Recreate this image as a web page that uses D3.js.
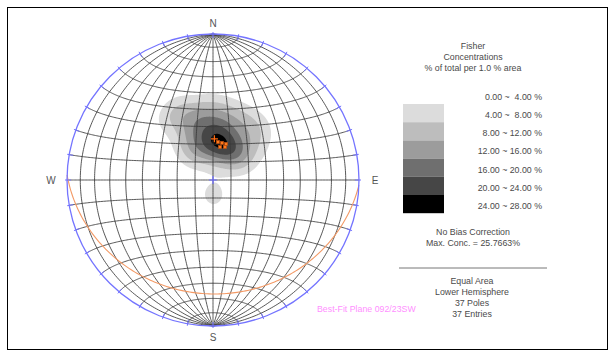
<!DOCTYPE html>
<html>
<head>
<meta charset="utf-8">
<script src="https://cdn.jsdelivr.net/npm/d3@7"></script>
<style>
  html, body { margin: 0; padding: 0; background: #fff; }
  svg { display: block; font-family: "Liberation Sans", Arial, sans-serif; }
</style>
</head>
<body>
<svg id="chart" width="616" height="358"></svg>
<script>
// Poles to the measured planes: trend / plunge in degrees (lower hemisphere)
const poleTrend = [1.5, 16.2, 6.8, 357.3, 18.0, 343.7, 8.3, 353.3, 27.4, 352.9, 11.1, 25.5, 39.8,
  13.5, 333.4, 340.8, 1.9, 39.3, 324.7, 51.3, 339.0, 22.0, 38.8, 320.2, 58.0, 359.2, 11.8, 349.5,
  326.6, 52.9, 330.2, 322.2, 336.0, 180.0, 177.1, 43.3, 30.8];
const polePlunge = [69.4, 72.0, 66.4, 65.9, 68.3, 56.0, 62.8, 70.9, 71.8, 58.3, 57.9, 62.7, 72.6,
  75.7, 71.3, 62.7, 56.2, 66.2, 73.6, 72.2, 53.7, 52.2, 56.8, 68.2, 68.9, 46.8, 48.3, 49.7,
  60.4, 58.3, 45.4, 48.4, 43.8, 84.4, 78.9, 49.5, 49.1];

// Pole symbols drawn over the contours
const symbolTrend = [7.5, 13.7, 19.9, 12.0, 20.0];
const symbolPlunge = [68.6, 68.7, 68.6, 71.2, 70.4];

// Best-fit plane (strike / dip, right-hand rule)
const planeStrike = 92;
const planeDip = 23;
const planeLabel = "Best-Fit Plane 092/23SW";

// Contour bands (% of total per 1.0 % area)
const contourLevels = [0, 4, 8, 12, 16, 20, 24, 28];
const contourLabels = ["0.00 ~  4.00 %", "4.00 ~  8.00 %", "8.00 ~ 12.00 %", "12.00 ~ 16.00 %",
  "16.00 ~ 20.00 %", "20.00 ~ 24.00 %", "24.00 ~ 28.00 %"];
const contourFills = ["#ffffff", "#dcdcdc", "#bdbdbd", "#9c9c9c", "#6f6f6f", "#464646", "#000000"];

const headerLines = ["Fisher", "Concentrations", "% of total per 1.0 % area"];
const noteLines = ["No Bias Correction", "Max. Conc. = 25.7663%"];
const infoLines = ["Equal Area", "Lower Hemisphere", "37 Poles", "37 Entries"];
const compassLabels = [{t: "N", az: 0}, {t: "E", az: 90}, {t: "S", az: 180}, {t: "W", az: 270}];

const gridStep = 10;     // net spacing in degrees
const fisherK = 69;      // Fisher concentration of the counting kernel

const svg = d3.select("#chart");
const rad = Math.PI / 180;
const cx = 213, cy = 180, R = 146;

// outer frame
svg.append("rect").attr("x", 7.5).attr("y", 7.5).attr("width", 600).attr("height", 342)
  .attr("fill", "none").attr("stroke", "#000").attr("stroke-width", 1);

// Schmidt net = equatorial Lambert azimuthal equal-area
const proj = d3.geoAzimuthalEqualArea()
  .rotate([0, 0])
  .scale(R / Math.SQRT2)
  .translate([cx, cy])
  .precision(0.1);
const path = d3.geoPath(proj);

// a line (trend, plunge) → [lon, lat] on the net globe
function lineToLonLat(trend, plunge) {
  const t = trend * rad, p = plunge * rad;
  const n = Math.cos(p) * Math.cos(t), e = Math.cos(p) * Math.sin(t), d = Math.sin(p);
  return [Math.atan2(e, d) / rad, Math.asin(Math.max(-1, Math.min(1, n))) / rad];
}
function lineVector(trend, plunge) {
  const t = trend * rad, p = plunge * rad;
  return [Math.cos(p) * Math.cos(t), Math.cos(p) * Math.sin(t), Math.sin(p)];
}

// ---- Fisher density on a pixel grid ----
const poleVecs = poleTrend.map((t, i) => lineVector(t, polePlunge[i]));
const pad = 2;
const x0 = cx - R - pad, y0 = cy - R - pad;
const nx = Math.ceil(2 * (R + pad)), ny = nx;
const values = new Float64Array(nx * ny);
for (let j = 0; j < ny; j++) {
  for (let i = 0; i < nx; i++) {
    const px = x0 + i + 0.5, py = y0 + j + 0.5;
    if (Math.hypot(px - cx, py - cy) > R) { values[j * nx + i] = 0; continue; }
    const ll = proj.invert([px, py]);
    const lon = ll[0] * rad, lat = ll[1] * rad;
    const d = Math.cos(lat) * Math.cos(lon), e = Math.cos(lat) * Math.sin(lon), n = Math.sin(lat);
    let s = 0;
    for (const v of poleVecs) {
      const c = Math.abs(v[0] * n + v[1] * e + v[2] * d);
      s += Math.exp(fisherK * (c - 1));
    }
    values[j * nx + i] = 100 * s / poleVecs.length;
  }
}
const bands = d3.contours().size([nx, ny]).thresholds(contourLevels.slice(1, -1))(values);
const gridPath = d3.geoPath(d3.geoIdentity().translate([x0, y0]));

const gContours = svg.append("g");
bands.forEach((b, k) => {
  gContours.append("path").attr("d", gridPath(b)).attr("fill", contourFills[k + 1]).attr("stroke", "none");
});

// ---- net lines ----
const latSamples = d3.range(-90, 90.001, 1).map(v => Math.max(-89.999, Math.min(89.999, v)));
const meridians = d3.range(-90 + gridStep, 90, gridStep).map(lon => ({
  type: "LineString", coordinates: latSamples.map(lat => [lon, lat])
}));
const parallels = d3.range(-90 + gridStep, 90, gridStep).map(lat => ({
  type: "LineString", coordinates: latSamples.map(lon => [lon, lat])
}));
const gNet = svg.append("g").attr("fill", "none").attr("stroke", "#3a3a3a").attr("stroke-width", 0.85);
meridians.concat(parallels).forEach(f => gNet.append("path").attr("d", path(f)));

// ---- best-fit plane trace ----
const sDir = planeStrike * rad, ddDir = (planeStrike + 90) * rad, dp = planeDip * rad;
const Svec = [Math.cos(sDir), Math.sin(sDir), 0];
const Dvec = [Math.cos(dp) * Math.cos(ddDir), Math.cos(dp) * Math.sin(ddDir), Math.sin(dp)];
const planeCoords = d3.range(0, 180.001, 1).map(a => {
  const c = Math.cos(a * rad), s = Math.sin(a * rad);
  const n = c * Svec[0] + s * Dvec[0], e = c * Svec[1] + s * Dvec[1], d = c * Svec[2] + s * Dvec[2];
  return [Math.atan2(e, Math.max(d, 1e-9)) / rad, Math.asin(Math.max(-1, Math.min(1, n))) / rad];
});
svg.append("path").attr("d", path({type: "LineString", coordinates: planeCoords}))
  .attr("fill", "none").attr("stroke", "#f39a66").attr("stroke-width", 1.1);

// ---- primitive circle and azimuth ticks ----
svg.append("circle").attr("cx", cx).attr("cy", cy).attr("r", R)
  .attr("fill", "none").attr("stroke", "#7474ff").attr("stroke-width", 1.3);
const tickAz = d3.range(0, 360, 10);
svg.append("g").selectAll("line").data(tickAz).join("line")
  .attr("x1", a => cx + (R - 4) * Math.sin(a * rad)).attr("y1", a => cy - (R - 4) * Math.cos(a * rad))
  .attr("x2", a => cx + (R + 2) * Math.sin(a * rad)).attr("y2", a => cy - (R + 2) * Math.cos(a * rad))
  .attr("stroke", "#7474ff").attr("stroke-width", 1);

// centre mark
svg.append("path").attr("d", `M${cx - 4},${cy}H${cx + 4}M${cx},${cy - 4}V${cy + 4}`)
  .attr("stroke", "#6a6aff").attr("stroke-width", 1.2);

// compass letters
svg.append("g").selectAll("text").data(compassLabels).join("text")
  .attr("x", d => cx + (R + 12) * Math.sin(d.az * rad) + (d.az === 270 ? -4 : d.az === 90 ? 4 : 0))
  .attr("y", d => cy - (R + 11) * Math.cos(d.az * rad))
  .attr("text-anchor", "middle").attr("dominant-baseline", "central")
  .attr("font-size", 10).attr("fill", "#555").text(d => d.t);

// ---- pole symbols and best-fit pole ----
const gSym = svg.append("g");
symbolTrend.forEach((t, i) => {
  const p = proj(lineToLonLat(t, symbolPlunge[i]));
  gSym.append("rect").attr("x", p[0] - 1.6).attr("y", p[1] - 1.6).attr("width", 3.2).attr("height", 3.2)
    .attr("fill", "#ff7a1a").attr("stroke", "#b24a10").attr("stroke-width", 0.6);
});
const bp = proj(lineToLonLat(planeStrike - 90, 90 - planeDip));
svg.append("path").attr("d", `M${bp[0] - 3.5},${bp[1]}H${bp[0] + 3.5}M${bp[0]},${bp[1] - 3.5}V${bp[1] + 3.5}`)
  .attr("stroke", "#ff6a10").attr("stroke-width", 1.2);

// ---- legend ----
const textColor = "#4a4a4a";
const fs = 8.8;
const gText = svg.append("g").attr("font-size", fs).attr("fill", textColor).attr("text-anchor", "middle");
headerLines.forEach((t, i) => gText.append("text").attr("x", 473).attr("y", 46 + i * 11)
  .attr("dominant-baseline", "central").text(t));

const boxTop = 85.8, boxH = 18.2;
const yBand = d3.scaleLinear().domain([0, contourLabels.length]).range([boxTop, boxTop + boxH * contourLabels.length]);
contourLabels.forEach((lab, i) => {
  if (i > 0) {
    svg.append("rect").attr("x", 403).attr("y", yBand(i)).attr("width", 41).attr("height", boxH)
      .attr("fill", contourFills[i]);
  }
  svg.append("text").attr("x", 542).attr("y", yBand(i) + 11)
    .attr("text-anchor", "end").attr("dominant-baseline", "central")
    .attr("font-size", fs).attr("fill", textColor).style("white-space", "pre").text(lab);
});

noteLines.forEach((t, i) => gText.append("text").attr("x", 473).attr("y", 232 + i * 11)
  .attr("dominant-baseline", "central").text(t));

svg.append("line").attr("x1", 399).attr("x2", 547).attr("y1", 268).attr("y2", 268)
  .attr("stroke", "#777").attr("stroke-width", 1);

infoLines.forEach((t, i) => gText.append("text").attr("x", 472).attr("y", 281 + i * 11)
  .attr("dominant-baseline", "central").text(t));

svg.append("text").attr("x", 317).attr("y", 309).attr("dominant-baseline", "central")
  .attr("font-size", fs).attr("fill", "#ff90ff").text(planeLabel);
</script>
</body>
</html>
